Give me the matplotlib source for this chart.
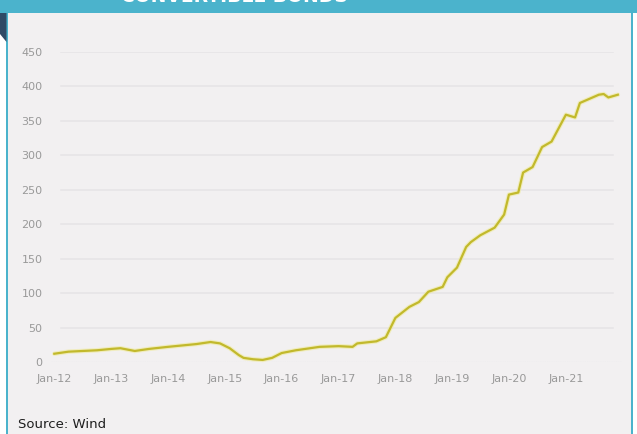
import matplotlib
matplotlib.use('Agg')
import matplotlib.pyplot as plt
import pandas as pd
from matplotlib.patches import Rectangle, Polygon

# Data (index level)
dates = ['2012-01', '2012-04', '2012-07', '2012-10', '2013-01', '2013-03', '2013-06',
         '2013-09', '2014-01', '2014-04', '2014-07', '2014-10', '2014-12', '2015-02',
         '2015-04', '2015-05', '2015-07', '2015-09', '2015-11', '2016-01', '2016-04',
         '2016-09', '2017-01', '2017-04', '2017-05', '2017-09', '2017-11', '2018-01',
         '2018-04', '2018-06', '2018-08', '2018-11', '2018-12', '2019-02', '2019-04',
         '2019-05', '2019-07', '2019-10', '2019-12', '2020-01', '2020-03', '2020-04',
         '2020-06', '2020-08', '2020-10', '2021-01', '2021-03', '2021-04', '2021-08',
         '2021-09', '2021-10', '2021-12']
values = [12, 15, 16, 17, 19, 20, 16,
          19, 22, 24, 26, 29, 27, 20,
          10, 6, 4, 3, 6, 13, 17,
          22, 23, 22, 27, 30, 36, 64,
          80, 87, 102, 109, 123, 137, 167,
          174, 184, 195, 214, 243, 246, 275,
          283, 312, 320, 359, 355, 376, 388,
          389, 384, 388]

tick_years = [2012, 2013, 2014, 2015, 2016, 2017, 2018, 2019, 2020, 2021]
tick_labels = ['Jan-12', 'Jan-13', 'Jan-14', 'Jan-15', 'Jan-16',
               'Jan-17', 'Jan-18', 'Jan-19', 'Jan-20', 'Jan-21']
y_ticks = [0, 50, 100, 150, 200, 250, 300, 350, 400, 450]

title = 'CONVERTIBLE BONDS'
source = 'Source: Wind'

W, H = 637, 434
teal = '#4BB3CC'

fig = plt.figure(figsize=(W / 100, H / 100), dpi=100)
fig.patch.set_facecolor('white')


def box(x0, y0, x1, y1, color):
    # rectangle in pixel coordinates (origin top-left)
    fig.patches.append(Rectangle((x0 / W, 1 - y1 / H), (x1 - x0) / W, (y1 - y0) / H,
                                 transform=fig.transFigure, facecolor=color,
                                 edgecolor='none', zorder=-5))


# Card background, banner and borders
box(7, 13, 633, H, '#F2F0F1')
box(0, 0, W, 13, teal)
box(6.5, 13, 8.5, H, teal)
box(631, 13, 633, H, teal)
fig.patches.append(Polygon([(0, 1 - 13 / H), (6.5 / W, 1 - 13 / H), (6.5 / W, 1 - 42 / H),
                            (0, 1 - 34 / H)], closed=True, transform=fig.transFigure,
                           facecolor='#2F4A66', edgecolor='none', zorder=-5))

# Title, mostly cut off by the top edge
fig.text(234 / W, 1 - 1.5 / H, title, ha='center', va='baseline', color='white',
         fontsize=13.5, fontweight='bold')

# Main axes
x_left = pd.Timestamp('2011-12-01')
x_right = pd.Timestamp('2022-02-01')
ax = fig.add_axes([49.5 / W, 1 - 362 / H, 578 / W, 310 / H])
ax.set_facecolor('none')
ax.set_xlim(x_left, x_right)
ax.set_ylim(0, 450)

for v in y_ticks[1:]:
    ax.axhline(v, xmin=0.02, xmax=0.975, color='#E7E5E7', lw=1.2, zorder=1)
ax.axhline(0, xmin=0.003, xmax=0.99, color='#CACDDE', lw=0.8, ls=(0, (1, 1)), zorder=1)

x = pd.to_datetime(dates)
ax.plot(x, values, color='#EFEA9A', lw=3.2, alpha=0.6, solid_capstyle='round', zorder=2, clip_on=False)
ax.plot(x, values, color='#C2B92C', lw=1.6, solid_joinstyle='round', zorder=3, clip_on=False)

ax.set_yticks(y_ticks)
ax.set_yticklabels([str(v) for v in y_ticks])
ax.set_xticks([pd.Timestamp(f'{y}-01-01') for y in tick_years])
ax.set_xticklabels(tick_labels)
ax.tick_params(axis='y', length=0, pad=5, labelsize=8, labelcolor='#999999')
ax.tick_params(axis='x', length=0, pad=9, labelsize=8, labelcolor='#999999')
for s in ax.spines.values():
    s.set_visible(False)

fig.text(18 / W, 1 - 425 / H, source, ha='left', va='center', fontsize=9.5, color='#1E1E1E')

fig.savefig('out.png', dpi=100, facecolor=fig.get_facecolor())
